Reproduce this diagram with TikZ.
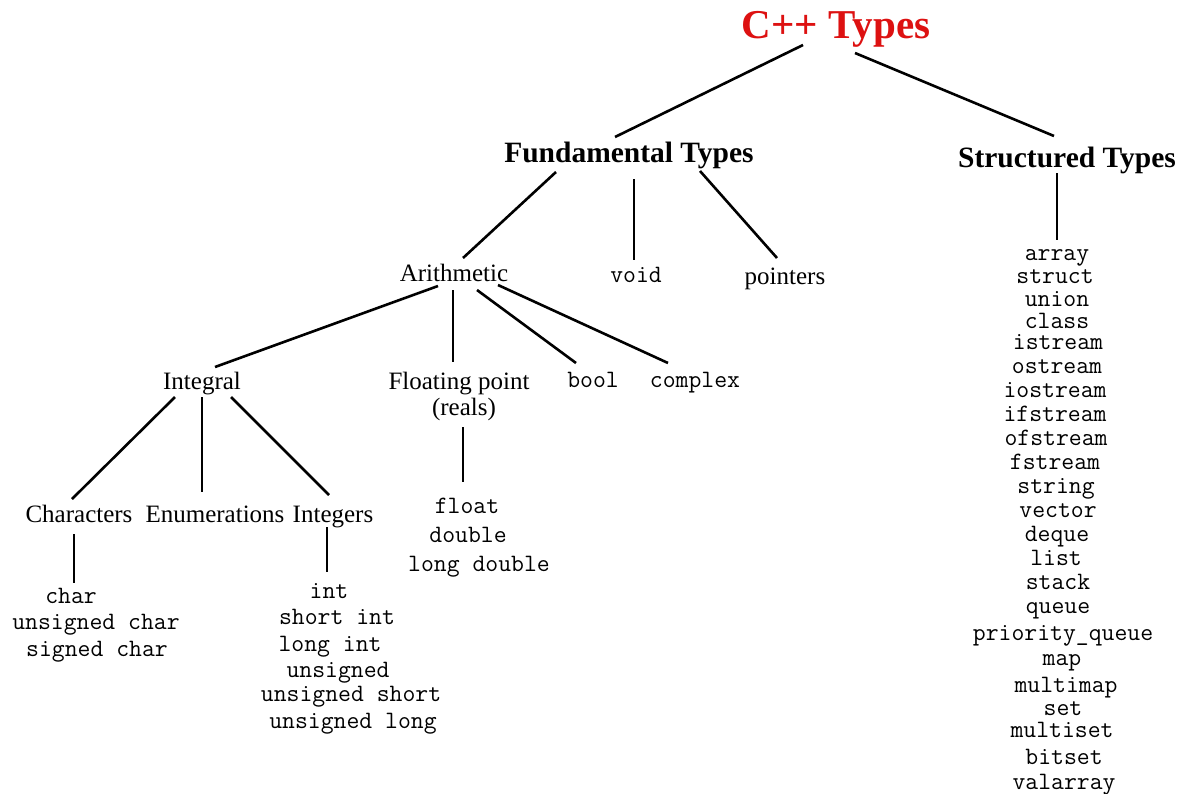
\documentclass[tikz,border=0pt]{standalone}
\usepackage{fontspec}
\setmainfont{Liberation Serif}
\usetikzlibrary{calc}
\definecolor{titlered}{RGB}{221,17,17}

\begin{document}
\begin{tikzpicture}[x=1pt, y=-1pt, line width=2.6pt,
		head/.style={inner sep=0pt, font=\fontsize{29.5}{31}\selectfont\bfseries, text height=21.6pt, text depth=2.4pt},
		lbl/.style={inner sep=0pt, font=\fontsize{25}{26}\selectfont, text height=19pt, text depth=2pt},
		kw/.style={inner sep=0pt, font=\fontsize{25}{26}\selectfont\ttfamily, text height=14pt, text depth=2pt}]
		\useasboundingbox (0,0) rectangle (1182,793);
		
		%top of the tree
		\node (cpp) at (836,25) [inner sep=0pt, font=\fontsize{41}{42}\selectfont\bfseries, text height=29pt, text depth=2pt, text=titlered]{C++ Types};
		\node (fund) at (629,153) [head]{Fundamental Types};
		\node (struc) at (1067,158) [head]{Structured Types};
		\draw ($(cpp)+(-33,20)$) -- ($(fund)+(-14,-16)$);
		\draw ($(cpp)+(19,28)$) -- ($(struc)+(-13,-22)$);
		
		%fundamental types
		\node (arith) at (454,273) [lbl]{Arithmetic};
		\node (void) at (636,276) [kw]{void};
		\node (ptr) at (785,276) [lbl]{pointers};
		\draw ($(fund)+(-73,19)$) -- ($(arith)+(9,-15)$);
		\draw ($(fund)+(5,26)$) -- ($(void)+(-2,-16)$);
		\draw ($(fund)+(71,18)$) -- ($(ptr)+(-8,-18)$);
		
		\node (integral) at (202,381) [lbl]{Integral};
		\node (floating) at (459,396) [inner sep=0pt, font=\fontsize{25}{26}\selectfont, align=center]{Floating point\\\hspace{10pt}(reals)};
		\node (bool) at (593,381) [kw]{bool};
		\node (complex) at (695,381) [kw]{complex};
		\draw ($(arith)+(-16,13)$) -- ($(integral)+(13,-14)$);
		\draw ($(arith)+(-1,17)$) -- ($(floating)+(-6,-34)$);
		\draw ($(arith)+(23,17)$) -- ($(bool)+(-17,-18)$);
		\draw ($(arith)+(44,12)$) -- ($(complex)+(-27,-18)$);
		
		\node (chars) at (79,514) [lbl]{Characters};
		\node (enums) at (215,514) [lbl]{Enumerations};
		\node (ints) at (333,514) [lbl]{Integers};
		\draw ($(integral)+(-27,16)$) -- ($(chars)+(-7,-15)$);
		\draw ($(integral)+(0,16)$) -- ($(enums)+(-13,-22)$);
		\draw ($(integral)+(29,16)$) -- ($(ints)+(-4,-19)$);
		
		%lists of keywords
		\foreach \t/\x/\y [count=\i] in {char/71/597, unsigned char/96/623, signed char/97/650}{
			\node (ch\i) at (\x,\y) [kw]{\t};
		}
		\foreach \t/\x/\y [count=\i] in {int/329/592, short int/337/618, long int/330/645,
			unsigned/338/671, unsigned short/351/695, unsigned long/353/722}{
			\node (in\i) at (\x,\y) [kw]{\t};
		}
		\foreach \t/\x/\y [count=\i] in {float/467/507, double/468/536, long double/479/565}{
			\node (fl\i) at (\x,\y) [kw]{\t};
		}
		\draw ($(chars)+(-5,20)$) -- ($(ch1)+(3,-14)$);
		\draw ($(ints)+(-6,13)$) -- ($(in1)+(-2,-20)$);
		\draw ($(floating)+(4,31)$) -- ($(fl1)+(-4,-25)$);
		
		%structured types
		\foreach \t/\x/\y [count=\i] in {array/1057/254, struct/1055/277, union/1057/300, class/1057/322,
			istream/1058/343, ostream/1057/367, iostream/1055/391, ifstream/1055/415, ofstream/1056/439,
			fstream/1055/463, string/1056/487, vector/1058/511, deque/1057/535, list/1056/559,
			stack/1058/583, queue/1058/607, priority\_queue/1063/634, map/1062/659, multimap/1066/686,
			set/1063/709, multiset/1062/731, bitset/1064/758, valarray/1064/783}{
			\node (st\i) at (\x,\y) [kw]{\t};
		}
		\draw ($(struc)+(-10,15)$) -- ($(st1)+(0,-14)$);
\end{tikzpicture}
\end{document}
